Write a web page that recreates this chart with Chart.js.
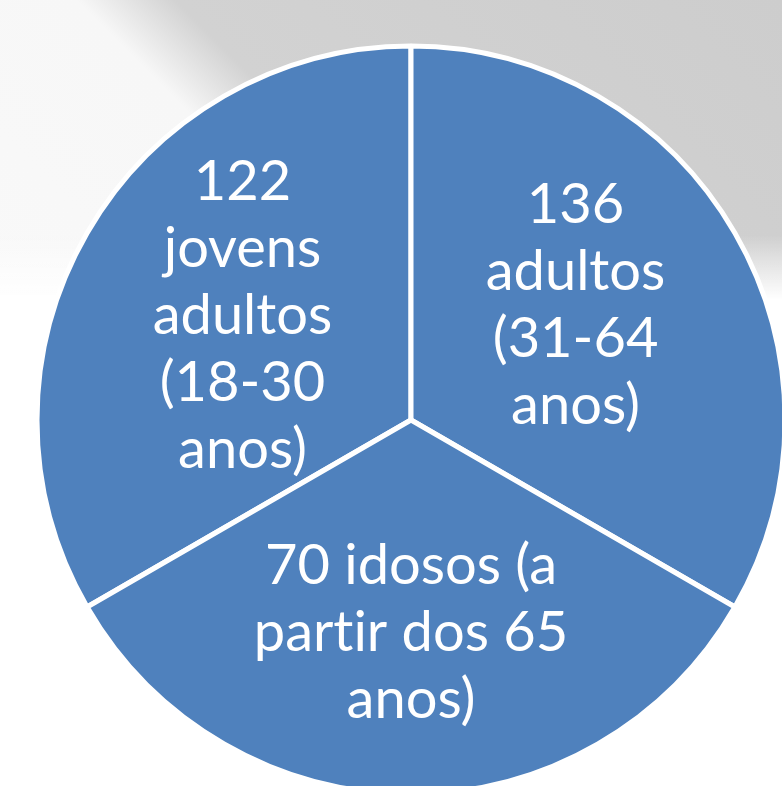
<!DOCTYPE html>
<html>
<head>
<meta charset="utf-8">
<script src="https://cdn.jsdelivr.net/npm/chart.js@4/dist/chart.umd.min.js"></script>
<style>
html, body { margin:0; padding:0; width:782px; height:786px; overflow:hidden; }
body {
  background:
    linear-gradient(to bottom, rgba(255,255,255,0) 0px, rgba(255,255,255,0) 235px, rgba(255,255,255,1) 300px),
    linear-gradient(45deg, #fbfbfb 0px, #f7f7f7 610px, #d2d2d2 680px, #cdcdcd 1109px);
}
#wrap { position:absolute; left:0; top:0; width:822px; height:840px; }
</style>
</head>
<body>
<div id="wrap"><canvas id="c"></canvas></div>
<script>
// ---- data ----
const categories = ["jovens adultos (18-30 anos)", "adultos (31-64 anos)", "idosos (a partir dos 65 anos)"];
const counts = [122, 136, 70];
// the slices in the picture are drawn as equal thirds
const sliceShares = [1, 1, 1];
const labelLines = [
  [String(counts[0]), "jovens", "adultos", "(18-30", "anos)"],
  [String(counts[1]), "adultos", "(31-64", "anos)"],
  [counts[2] + " idosos (a", "partir dos 65", "anos)"]
];

// ---- style ----
const FONT = "56px Lato, 'Open Sans', sans-serif";
const LINE_H = 67;
const LABEL_R = 0.545;
const LABEL_NUDGE = [[8, -2], [-12, -13], [0, 9]];

const sliceLabels = {
  id: 'sliceLabels',
  afterDatasetsDraw(chart) {
    const ctx = chart.ctx;
    const meta = chart.getDatasetMeta(0);
    ctx.save();
    ctx.font = FONT;
    try { ctx.textRendering = 'optimizeSpeed'; } catch (e) {}
    ctx.fillStyle = '#ffffff';
    ctx.textAlign = 'center';
    ctx.textBaseline = 'middle';
    meta.data.forEach((arc, i) => {
      const p = arc.getProps(['x', 'y', 'startAngle', 'endAngle', 'outerRadius'], true);
      const mid = (p.startAngle + p.endAngle) / 2;
      const cx = p.x + Math.cos(mid) * p.outerRadius * LABEL_R + LABEL_NUDGE[i][0];
      const cy = p.y + Math.sin(mid) * p.outerRadius * LABEL_R + LABEL_NUDGE[i][1];
      const lines = labelLines[i];
      lines.forEach((ln, k) => {
        ctx.fillText(ln, cx, cy + (k - (lines.length - 1) / 2) * LINE_H);
      });
    });
    ctx.restore();
  }
};

new Chart(document.getElementById('c'), {
  type: 'pie',
  data: {
    labels: categories,
    datasets: [{
      data: sliceShares,
      backgroundColor: '#4f81bd',
      borderColor: '#ffffff',
      borderWidth: 5,
      hoverOffset: 0
    }]
  },
  options: {
    responsive: true,
    maintainAspectRatio: false,
    animation: false,
    rotation: -120,
    radius: 374,
    events: [],
    layout: { padding: 0 },
    plugins: {
      legend: { display: false },
      tooltip: { enabled: false },
      title: { display: false }
    }
  },
  plugins: [sliceLabels]
});
</script>
</body>
</html>
